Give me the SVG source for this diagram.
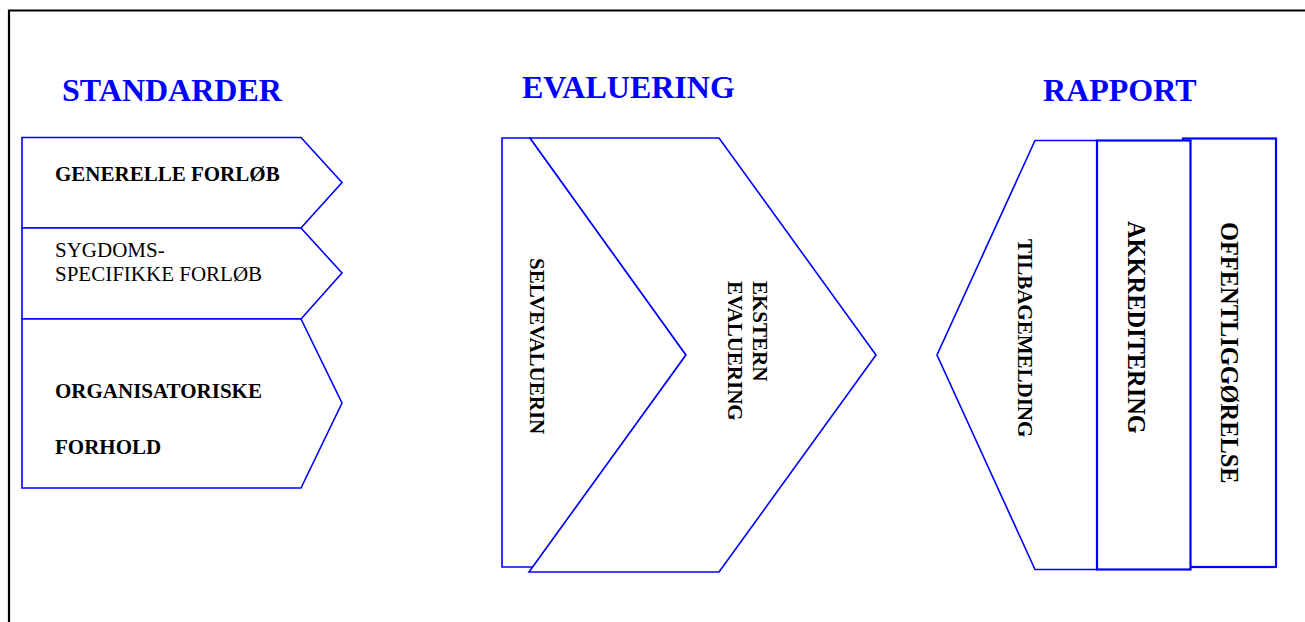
<svg xmlns="http://www.w3.org/2000/svg" width="1305" height="622" viewBox="0 0 1305 622">
<style>
.shape{fill:#fff;stroke:#0000ff;stroke-width:1.6;stroke-linejoin:miter}
.thick{stroke-width:2.2}
.title{font-family:"Liberation Serif",serif;font-weight:bold;font-size:32px;fill:#0000ff}
.lbl{font-family:"Liberation Serif",serif;font-size:21px;fill:#000}
.b{font-weight:bold}
.big{font-size:24.4px}
</style>
<rect width="1305" height="622" fill="#fff"/>
<path d="M9,622 V10.5 H1305" fill="none" stroke="#000" stroke-width="2.2"/>
<g id="titles">
<text class="title" x="62" y="101">STANDARDER</text>
<text class="title" x="522" y="98">EVALUERING</text>
<text class="title" x="1043" y="101">RAPPORT</text>
</g>
<g id="generelle">
<polygon class="shape" points="22,137.5 301,137.5 342,182.5 301,228 22,228"/>
<text class="lbl b" x="55" y="181">GENERELLE FORLØB</text>
</g>
<g id="sygdoms">
<polygon class="shape" points="22,228 301,228 342,273 301,319 22,319"/>
<text class="lbl" x="55" y="257">SYGDOMS-</text>
<text class="lbl" x="55" y="281">SPECIFIKKE FORLØB</text>
</g>
<g id="organisatoriske">
<polygon class="shape" points="22,319 301,319 342,403 301,488 22,488"/>
<text class="lbl b" x="55" y="398">ORGANISATORISKE</text>
<text class="lbl b" x="55" y="454">FORHOLD</text>
</g>
<g id="selvevaluering">
<polygon class="shape" points="502,138 530,138 686,355 533,567 502,567"/>
<text class="lbl b" transform="translate(530,258) rotate(90)">SELVEVALUERIN</text>
</g>
<g id="ekstern">
<polygon class="shape" points="530,138 719,138 876,355 719,572 529,572 686,355"/>
<text class="lbl b" transform="translate(753,281) rotate(90)">EKSTERN</text>
<text class="lbl b" transform="translate(728,281) rotate(90)">EVALUERING</text>
</g>
<g id="tilbagemelding">
<polygon class="shape" points="1035,140.5 1097,140.5 1097,569.5 1035,569.5 937,355"/>
<text class="lbl b" transform="translate(1018,239) rotate(90)">TILBAGEMELDING</text>
</g>
<g id="offentliggorelse">
<rect class="shape thick" x="1183" y="138.5" width="93" height="428.5"/>
<text class="lbl b big" transform="translate(1221,222) rotate(90)">OFFENTLIGGØRELSE</text>
</g>
<g id="akkreditering">
<rect class="shape thick" x="1097" y="140.5" width="93.5" height="429"/>
<text class="lbl b big" transform="translate(1128,221) rotate(90)">AKKREDITERING</text>
</g>
<g id="connectors"></g>
</svg>
